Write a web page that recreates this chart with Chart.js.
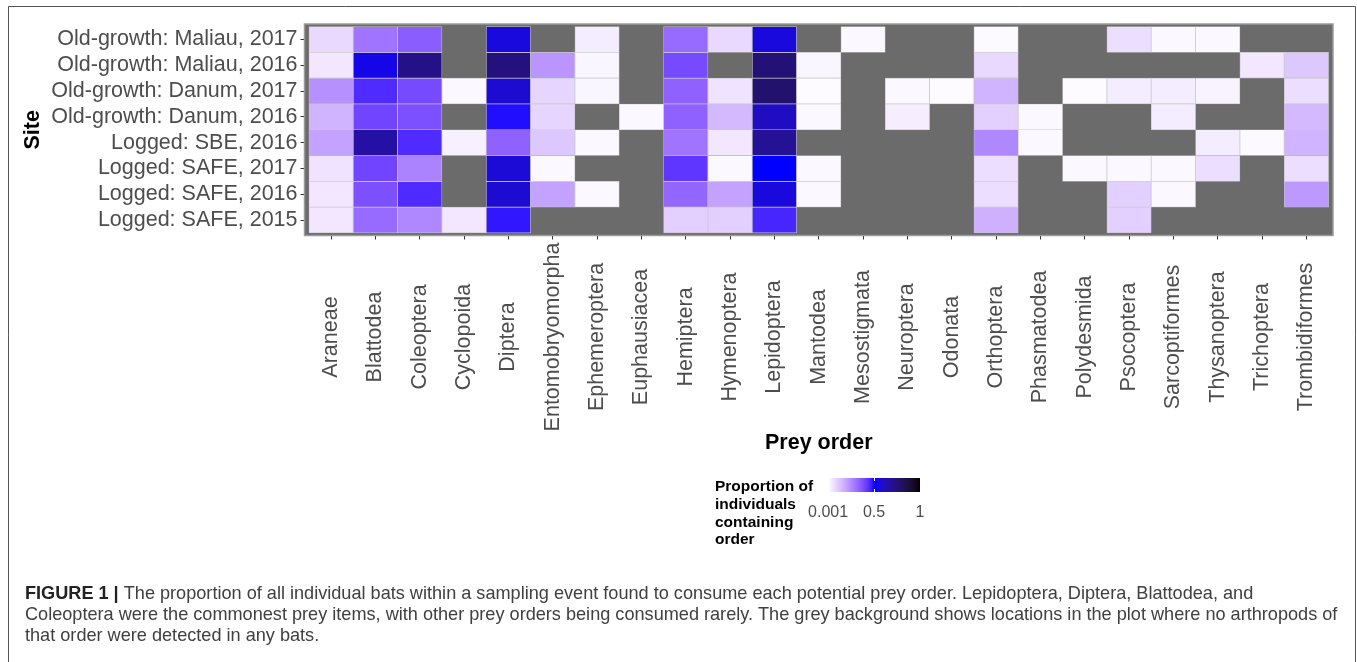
<!DOCTYPE html>
<html>
<head>
<meta charset="utf-8">
<script src="https://cdn.jsdelivr.net/npm/chart.js@4/dist/chart.umd.min.js"></script>
<style>
html,body{margin:0;padding:0;background:#fff;}
#wrap{position:relative;width:1357px;height:662px;}
canvas{display:block;}
</style>
</head>
<body>
<div id="wrap"><canvas id="c" width="1357" height="662"></canvas></div>
<script>
// ---------- DATA ----------
const preyOrders = ["Araneae","Blattodea","Coleoptera","Cyclopoida","Diptera","Entomobryomorpha","Ephemeroptera","Euphausiacea","Hemiptera","Hymenoptera","Lepidoptera","Mantodea","Mesostigmata","Neuroptera","Odonata","Orthoptera","Phasmatodea","Polydesmida","Psocoptera","Sarcoptiformes","Thysanoptera","Trichoptera","Trombidiformes"];
// sites, listed top to bottom as displayed
const sites = ["Old-growth: Maliau, 2017","Old-growth: Maliau, 2016","Old-growth: Danum, 2017","Old-growth: Danum, 2016","Logged: SBE, 2016","Logged: SAFE, 2017","Logged: SAFE, 2016","Logged: SAFE, 2015"];
// proportion of individuals containing each order (null = not detected)
const maliau2017 = [0.08,0.30,0.35,null,0.56,null,0.04,null,0.32,0.08,0.56,null,0.015,null,null,0.012,null,null,0.07,0.015,0.015,null,null];
const maliau2016 = [0.05,0.54,0.72,null,0.74,0.23,0.02,null,0.39,null,0.75,0.02,null,null,null,0.08,null,null,null,null,null,0.05,0.12];
const danum2017  = [0.24,0.45,0.39,0.015,0.58,0.09,0.02,null,0.34,0.06,0.77,0.008,null,0.015,0.008,0.16,null,0.008,0.04,0.04,0.025,null,0.07];
const danum2016  = [0.16,0.40,0.38,null,0.49,0.09,null,0.015,0.34,0.15,0.61,0.015,null,0.035,null,0.10,0.015,null,null,0.04,null,null,0.15];
const sbe2016    = [0.20,0.66,0.45,0.03,0.34,0.12,0.015,null,0.30,0.05,0.69,null,null,null,null,0.26,0.015,null,null,null,0.04,0.01,0.16];
const safe2017   = [0.06,0.40,0.27,null,0.57,0.015,null,null,0.43,0.015,0.50,0.015,null,null,null,0.07,null,0.015,0.015,0.015,0.07,null,0.07];
const safe2016   = [0.05,0.38,0.45,null,0.58,0.20,0.015,null,0.33,0.20,0.56,0.015,null,null,null,0.07,null,null,0.10,0.015,null,null,0.22];
const safe2015   = [0.05,0.32,0.26,0.05,0.48,null,null,null,0.10,0.10,0.46,null,null,null,null,0.17,null,null,0.10,null,null,null,null];
const siteValues = [maliau2017,maliau2016,danum2017,danum2016,sbe2016,safe2017,safe2016,safe2015];
const legendBreaks = [0.001,0.5,1];
const legendLabels = ["0.001","0.5","1"];
const legendTitle = ["Proportion of","individuals","containing","order"];
const captionBold = "FIGURE 1 |";
const captionLines = [
  " The proportion of all individual bats within a sampling event found to consume each potential prey order. Lepidoptera, Diptera, Blattodea, and",
  "Coleoptera were the commonest prey items, with other prey orders being consumed rarely. The grey background shows locations in the plot where no arthropods of",
  "that order were detected in any bats."
];

// ---------- COLOUR SCALE (Lab interpolation white -> blue -> black) ----------
function s2l(c){c/=255;return c<=0.04045?c/12.92:Math.pow((c+0.055)/1.055,2.4);}
function l2s(c){c=Math.max(0,Math.min(1,c));const v=c<=0.0031308?12.92*c:1.055*Math.pow(c,1/2.4)-0.055;return Math.round(Math.max(0,Math.min(1,v))*255);}
const Xn=0.95047,Yn=1,Zn=1.08883;
function rgbToLab(r,g,b){
  const R=s2l(r),G=s2l(g),B=s2l(b);
  const X=0.4124564*R+0.3575761*G+0.1804375*B,Y=0.2126729*R+0.7151522*G+0.0721750*B,Z=0.0193339*R+0.1191920*G+0.9503041*B;
  const f=t=>t>0.008856?Math.cbrt(t):7.787*t+16/116;
  const fx=f(X/Xn),fy=f(Y/Yn),fz=f(Z/Zn);
  return [116*fy-16,500*(fx-fy),200*(fy-fz)];
}
function labToRgb(L,a,b){
  const fy=(L+16)/116,fx=fy+a/500,fz=fy-b/200;
  const fi=t=>t*t*t>0.008856?t*t*t:(t-16/116)/7.787;
  const X=Xn*fi(fx),Y=Yn*fi(fy),Z=Zn*fi(fz);
  const R=3.2404542*X-1.5371385*Y-0.4985314*Z,G=-0.9692660*X+1.8760108*Y+0.0415560*Z,B=0.0556434*X-0.2040259*Y+1.0572252*Z;
  return [l2s(R),l2s(G),l2s(B)];
}
const labWhite=rgbToLab(255,255,255),labBlue=rgbToLab(0,0,255),labBlack=rgbToLab(0,0,0);
function colorFor(v){
  let a,b,t;
  if(v<=0.5){a=labWhite;b=labBlue;t=v/0.5;}else{a=labBlue;b=labBlack;t=(v-0.5)/0.5;}
  t=Math.max(0,Math.min(1,t));
  const c=labToRgb(a[0]+(b[0]-a[0])*t,a[1]+(b[1]-a[1])*t,a[2]+(b[2]-a[2])*t);
  return `rgb(${c[0]},${c[1]},${c[2]})`;
}

// ---------- DATASETS ----------
const nRows = sites.length;
const datasets = sites.map((site,i)=>{
  const row = nRows-1-i;
  const pts=[],cols=[];
  siteValues[i].forEach((v,j)=>{
    if(v!==null){pts.push({x:j,y:[row-0.5,row+0.5],v:v});cols.push(colorFor(v));}
  });
  return {label:site,data:pts,backgroundColor:cols,borderColor:'rgba(225,225,225,0.75)',borderWidth:0.7,
          grouped:false,barPercentage:1,categoryPercentage:1,borderSkipped:false};
});

const FONT="'Liberation Sans', Arial, Helvetica, sans-serif";
Chart.defaults.font.family=FONT;

const PANEL_LEFT=304.5, PAD_LEFT=10, X_AXIS_BOTTOM=460;

const extras={
  id:'extras',
  beforeDatasetsDraw(chart){
    const {ctx,chartArea:a}=chart;
    ctx.save();ctx.fillStyle='#6b6b6b';ctx.fillRect(a.left,a.top,a.right-a.left,a.bottom-a.top);ctx.restore();
  },
  afterDatasetsDraw(chart){
    const {ctx,chartArea:a}=chart;
    ctx.save();ctx.strokeStyle='#9a9a9a';ctx.lineWidth=1.5;
    ctx.strokeRect(a.left,a.top,a.right-a.left,a.bottom-a.top);ctx.restore();
  },
  afterDraw(chart){
    const {ctx}=chart;
    const xs=chart.scales.x;
    ctx.save();
    // x tick labels, rotated and centred
    ctx.fillStyle='#4d4d4d';ctx.font=`21.5px ${FONT}`;ctx.textAlign='center';ctx.textBaseline='middle';
    preyOrders.forEach((lab,i)=>{
      const px=xs.getPixelForValue(i);
      ctx.save();ctx.translate(px,337);ctx.rotate(-Math.PI/2);ctx.fillText(lab,0,0);ctx.restore();
    });
    // legend
    const lx0=828,lx1=920,ly0=478,ly1=492;
    const g=ctx.createLinearGradient(lx0,0,lx1,0);
    for(let k=0;k<=60;k++){const v=k/60;g.addColorStop(v,colorFor(v));}
    ctx.fillStyle=g;ctx.fillRect(lx0,ly0,lx1-lx0,ly1-ly0);
    ctx.strokeStyle='#ffffff';ctx.lineWidth=1;
    legendBreaks.forEach(b=>{
      const px=Math.round(lx0+b*(lx1-lx0))+0.5;
      ctx.beginPath();ctx.moveTo(px,ly0);ctx.lineTo(px,ly0+3);ctx.moveTo(px,ly1-3);ctx.lineTo(px,ly1);ctx.stroke();
    });
    ctx.fillStyle='#4d4d4d';ctx.font=`16px ${FONT}`;ctx.textAlign='center';ctx.textBaseline='middle';
    legendBreaks.forEach((b,k)=>{ctx.fillText(legendLabels[k],lx0+b*(lx1-lx0),513);});
    ctx.fillStyle='#000';ctx.font=`bold 15.5px ${FONT}`;ctx.textAlign='left';ctx.textBaseline='middle';
    legendTitle.forEach((t,k)=>ctx.fillText(t,715,487+k*17.7));
    // caption
    ctx.textBaseline='alphabetic';
    let fs=17;ctx.font=`${fs}px ${FONT}`;
    const w=ctx.measureText(captionLines[1]).width;fs=fs*1314/w;
    ctx.font=`bold ${fs}px ${FONT}`;ctx.fillStyle='#222';
    ctx.fillText(captionBold,25,599);
    const bw=ctx.measureText(captionBold).width;
    ctx.font=`${fs}px ${FONT}`;ctx.fillStyle='#404040';
    ctx.fillText(captionLines[0],25+bw,599);
    ctx.fillText(captionLines[1],25,620);
    ctx.fillText(captionLines[2],25,641);
    // figure frame
    ctx.strokeStyle='#555';ctx.lineWidth=1;
    ctx.beginPath();ctx.moveTo(8.5,700);ctx.lineTo(8.5,6.5);ctx.lineTo(1355.5,6.5);ctx.lineTo(1355.5,700);ctx.stroke();
    ctx.restore();
  }
};

new Chart(document.getElementById('c'),{
  type:'bar',
  data:{datasets:datasets},
  options:{
    responsive:false,animation:false,
    layout:{padding:{left:PAD_LEFT,right:24,top:24,bottom:662-X_AXIS_BOTTOM}},
    plugins:{legend:{display:false},tooltip:{enabled:false}},
    scales:{
      x:{type:'linear',position:'bottom',min:-0.6,max:22.6,offset:false,
         afterBuildTicks:s=>{s.ticks=preyOrders.map((_,i)=>({value:i}));},
         afterFit:s=>{s.height=X_AXIS_BOTTOM-235.5;},
         ticks:{display:false,autoSkip:false},
         grid:{display:true,offset:false,drawOnChartArea:false,drawTicks:true,tickLength:4,color:'#333',tickColor:'#333'},
         border:{display:false},
         title:{display:true,text:'Prey order',color:'#000',font:{size:21.5,weight:'bold'},padding:{top:0,bottom:4}}
      },
      y:{type:'linear',position:'left',min:-0.6,max:7.6,offset:false,
         afterBuildTicks:s=>{s.ticks=sites.map((_,i)=>({value:i}));},
         afterFit:s=>{s.width=PANEL_LEFT-PAD_LEFT;},
         ticks:{autoSkip:false,color:'#4d4d4d',font:{size:21.5},padding:3,callback:v=>sites[nRows-1-v]},
         grid:{display:true,offset:false,drawOnChartArea:false,drawTicks:true,tickLength:4,color:'#333',tickColor:'#333'},
         border:{display:false},
         title:{display:true,text:'Site',color:'#000',font:{size:21.5,weight:'bold'},padding:{top:10,bottom:0}}
      }
    }
  },
  plugins:[extras]
});
</script>
</body>
</html>
